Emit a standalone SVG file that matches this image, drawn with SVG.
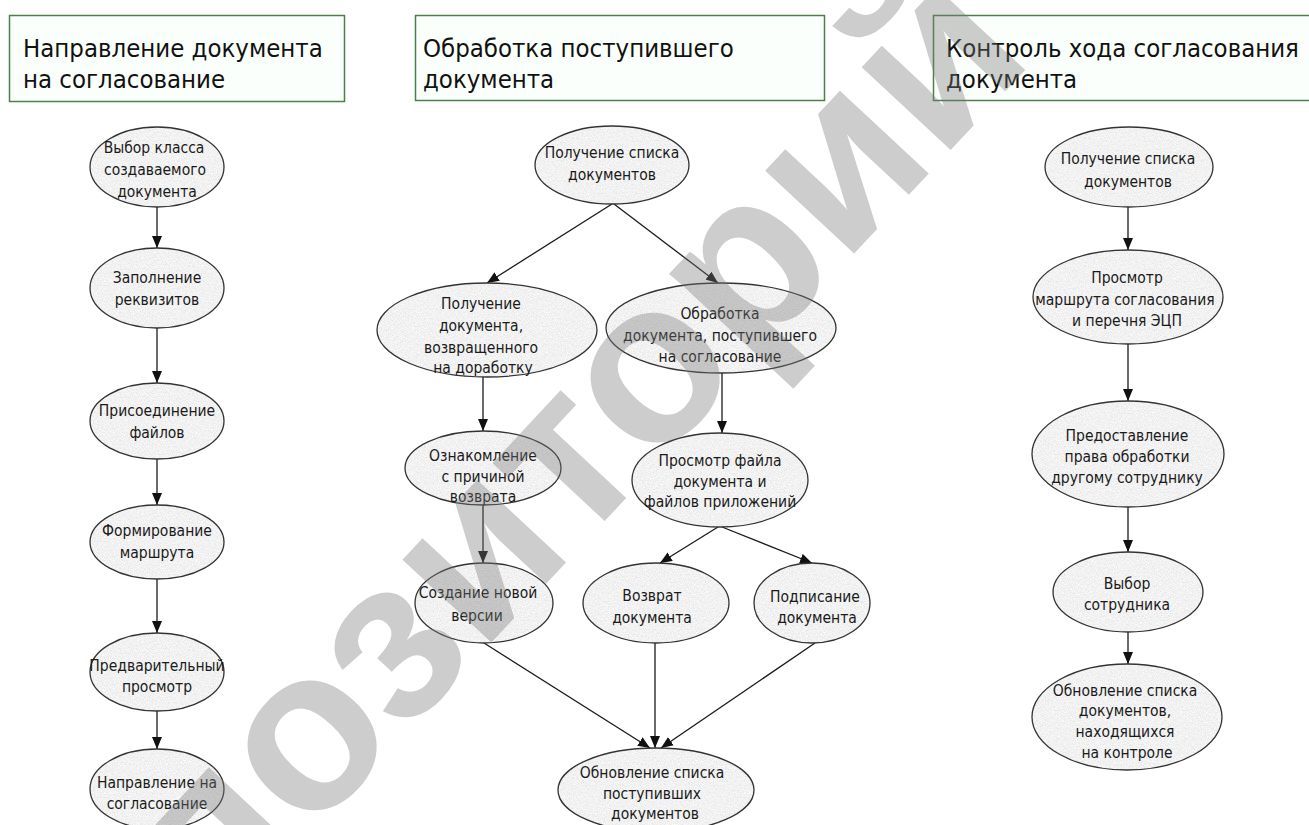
<svg xmlns="http://www.w3.org/2000/svg" width="1309" height="825" viewBox="0 0 1309 825">
<defs>
<style>
.title{fill:#fbfffb;stroke:#4d7f4d;stroke-width:1.5}
.tt{font-family:"DejaVu Sans Condensed","DejaVu Sans",sans-serif;font-stretch:condensed;font-size:25.5px;fill:#111}
.nd{fill:url(#tex);stroke:#333;stroke-width:1.3}
.nt{font-family:"DejaVu Sans Condensed","DejaVu Sans",sans-serif;font-stretch:condensed;font-size:15.5px;fill:#1a1a1a;text-anchor:middle}
.ln{stroke:#1a1a1a;stroke-width:1.3;fill:none;marker-end:url(#arr)}
.wm{font-family:"Liberation Sans",Arial,sans-serif;font-weight:bold;font-size:230px;fill:#777;opacity:0.36}
</style>
<filter id="grain" x="0" y="0" width="1" height="1">
<feTurbulence type="fractalNoise" baseFrequency="0.75" numOctaves="3" seed="7" stitchTiles="stitch"/>
<feColorMatrix type="matrix" values="0.35 0 0 0 0.71  0.35 0 0 0 0.71  0.35 0 0 0 0.71  0 0 0 0 1"/>
</filter>
<pattern id="tex" width="128" height="128" patternUnits="userSpaceOnUse">
<rect width="128" height="128" fill="#fff" filter="url(#grain)"/>
</pattern>
<marker id="arr" viewBox="0 0 12 10" refX="12" refY="5" markerWidth="12" markerHeight="10" markerUnits="userSpaceOnUse" orient="auto">
<path d="M0,0 L12,5 L0,10 z" fill="#111"/>
</marker>
</defs>
<rect width="1309" height="825" fill="#fff"/>

<g id="title1"><rect class="title" x="9.5" y="15.5" width="335" height="86"/>
<text class="tt" x="23" y="57">Направление документа</text><text class="tt" x="23" y="88">на согласование</text></g>
<g id="title2"><rect class="title" x="415.5" y="15.5" width="409" height="85"/>
<text class="tt" x="423" y="57">Обработка поступившего</text><text class="tt" x="423" y="88">документа</text></g>
<g id="title3"><rect class="title" x="933.5" y="15.5" width="400" height="85"/>
<text class="tt" x="946" y="57">Контроль хода согласования</text><text class="tt" x="946" y="88">документа</text></g>

<g id="connectors">
<line class="ln" x1="157" y1="207" x2="157" y2="248"/>
<line class="ln" x1="157" y1="328" x2="157" y2="383"/>
<line class="ln" x1="157" y1="459" x2="157" y2="505"/>
<line class="ln" x1="157" y1="579" x2="157" y2="633"/>
<line class="ln" x1="157" y1="711" x2="157" y2="749"/>
<line class="ln" x1="612" y1="204" x2="487" y2="283"/>
<line class="ln" x1="614" y1="204" x2="718" y2="283"/>
<line class="ln" x1="483" y1="377" x2="483" y2="431"/>
<line class="ln" x1="722" y1="373" x2="722" y2="433"/>
<line class="ln" x1="483" y1="505" x2="483" y2="563"/>
<line class="ln" x1="718" y1="527" x2="660" y2="563"/>
<line class="ln" x1="722" y1="527" x2="812" y2="563"/>
<line class="ln" x1="484" y1="643" x2="650" y2="748"/>
<line class="ln" x1="655" y1="643" x2="655" y2="748"/>
<line class="ln" x1="815" y1="643" x2="661" y2="748"/>
<line class="ln" x1="1128" y1="207" x2="1128" y2="250"/>
<line class="ln" x1="1128" y1="344" x2="1128" y2="401"/>
<line class="ln" x1="1128" y1="507" x2="1128" y2="552"/>
<line class="ln" x1="1128" y1="632" x2="1128" y2="664"/>
</g>

<g id="L1"><ellipse class="nd" cx="157" cy="167" rx="67" ry="40"/><text class="nt"><tspan x="154" y="153">Выбор класса</tspan><tspan x="155" y="175">создаваемого</tspan><tspan x="157" y="197">документа</tspan></text></g>
<g id="L2"><ellipse class="nd" cx="157" cy="288" rx="67" ry="40"/><text class="nt"><tspan x="157" y="283">Заполнение</tspan><tspan x="157" y="305">реквизитов</tspan></text></g>
<g id="L3"><ellipse class="nd" cx="157" cy="421" rx="67" ry="38"/><text class="nt"><tspan x="157" y="416">Присоединение</tspan><tspan x="157" y="438">файлов</tspan></text></g>
<g id="L4"><ellipse class="nd" cx="157" cy="542" rx="67" ry="37"/><text class="nt"><tspan x="157" y="536">Формирование</tspan><tspan x="157" y="558">маршрута</tspan></text></g>
<g id="L5"><ellipse class="nd" cx="157" cy="672" rx="67" ry="39"/><text class="nt"><tspan x="157" y="671">Предварительный</tspan><tspan x="157" y="692">просмотр</tspan></text></g>
<g id="L6"><ellipse class="nd" cx="157" cy="789" rx="67" ry="40"/><text class="nt"><tspan x="157" y="788">Направление на</tspan><tspan x="157" y="809">согласование</tspan></text></g>

<g id="M1"><ellipse class="nd" cx="612" cy="165" rx="77" ry="39"/><text class="nt"><tspan x="612" y="158">Получение списка</tspan><tspan x="612" y="180">документов</tspan></text></g>
<g id="M2L"><ellipse class="nd" cx="487" cy="330" rx="110" ry="47"/><text class="nt"><tspan x="481" y="309">Получение</tspan><tspan x="481" y="331">документа,</tspan><tspan x="481" y="353">возвращенного</tspan><tspan x="483" y="373">на доработку</tspan></text></g>
<g id="M2R"><ellipse class="nd" cx="721" cy="328" rx="115" ry="45"/><text class="nt"><tspan x="720" y="319">Обработка</tspan><tspan x="720" y="341">документа, поступившего</tspan><tspan x="720" y="362">на согласование</tspan></text></g>
<g id="M3L"><ellipse class="nd" cx="483" cy="468" rx="78" ry="37"/><text class="nt"><tspan x="483" y="461">Ознакомление</tspan><tspan x="483" y="482">с причиной</tspan><tspan x="483" y="502">возврата</tspan></text></g>
<g id="M3R"><ellipse class="nd" cx="720" cy="480" rx="88" ry="47"/><text class="nt"><tspan x="720" y="466">Просмотр файла</tspan><tspan x="720" y="487">документа и</tspan><tspan x="720" y="507">файлов приложений</tspan></text></g>
<g id="M4L"><ellipse class="nd" cx="484" cy="603" rx="69" ry="40"/><text class="nt"><tspan x="478" y="598">Создание новой</tspan><tspan x="477" y="621">версии</tspan></text></g>
<g id="M4C"><ellipse class="nd" cx="656" cy="603" rx="73" ry="40"/><text class="nt"><tspan x="652" y="601">Возврат</tspan><tspan x="652" y="623">документа</tspan></text></g>
<g id="M4R"><ellipse class="nd" cx="812" cy="603" rx="58" ry="40"/><text class="nt"><tspan x="815" y="602">Подписание</tspan><tspan x="817" y="623">документа</tspan></text></g>
<g id="M5"><ellipse class="nd" cx="656" cy="790" rx="98" ry="42"/><text class="nt"><tspan x="652" y="778">Обновление списка</tspan><tspan x="652" y="799">поступивших</tspan><tspan x="655" y="819">документов</tspan></text></g>

<g id="R1"><ellipse class="nd" cx="1129" cy="167" rx="84" ry="40"/><text class="nt"><tspan x="1128" y="164">Получение списка</tspan><tspan x="1128" y="187">документов</tspan></text></g>
<g id="R2"><ellipse class="nd" cx="1128" cy="297" rx="95" ry="47"/><text class="nt"><tspan x="1127" y="283">Просмотр</tspan><tspan x="1125" y="305">маршрута согласования</tspan><tspan x="1127" y="326">и перечня ЭЦП</tspan></text></g>
<g id="R3"><ellipse class="nd" cx="1128" cy="454" rx="96" ry="53"/><text class="nt"><tspan x="1127" y="441">Предоставление</tspan><tspan x="1127" y="462">права обработки</tspan><tspan x="1127" y="483">другому сотруднику</tspan></text></g>
<g id="R4"><ellipse class="nd" cx="1128" cy="592" rx="75" ry="40"/><text class="nt"><tspan x="1127" y="589">Выбор</tspan><tspan x="1127" y="610">сотрудника</tspan></text></g>
<g id="R5"><ellipse class="nd" cx="1127" cy="717" rx="95" ry="53"/><text class="nt"><tspan x="1125" y="696">Обновление списка</tspan><tspan x="1125" y="716">документов,</tspan><tspan x="1125" y="737">находящихся</tspan><tspan x="1127" y="758">на контроле</tspan></text></g>

<g id="watermark"><text class="wm" transform="translate(214,940) rotate(-47)">позиторий БГ</text></g>
</svg>
